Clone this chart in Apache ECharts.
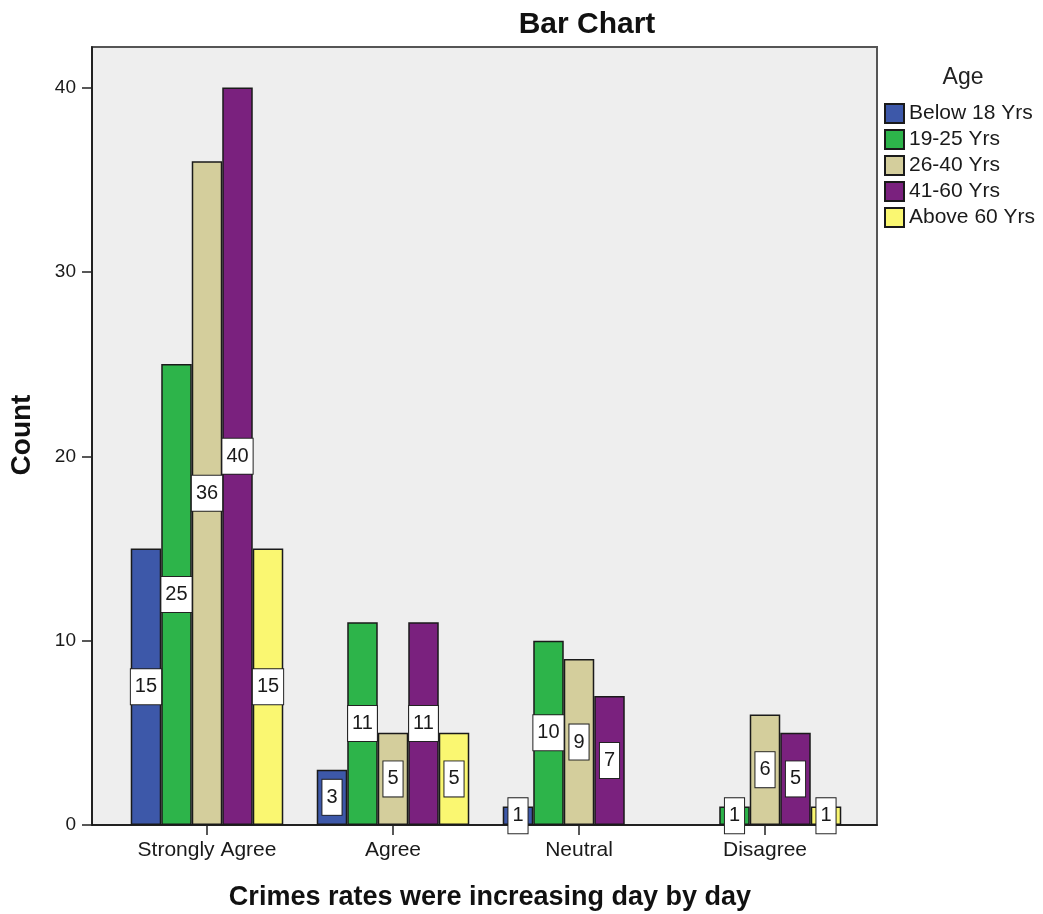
<!DOCTYPE html>
<html>
<head>
<meta charset="utf-8">
<script src="https://cdn.jsdelivr.net/npm/echarts@6/dist/echarts.min.js"></script>
<style>
  html, body { margin: 0; padding: 0; background: #ffffff; }
  #chart { width: 1043px; height: 914px; }
</style>
</head>
<body>
<div id="chart"></div>
<script>
// Responses to "Crimes rates were increasing day by day", counted by age group
const categories = ['Strongly Agree', 'Agree', 'Neutral', 'Disagree'];
const ageGroups = ['Below 18 Yrs', '19-25 Yrs', '26-40 Yrs', '41-60 Yrs', 'Above 60 Yrs'];
const below18 = [15, 3, 1, null];
const age19to25 = [25, 11, 10, 1];
const age26to40 = [36, 5, 9, 6];
const age41to60 = [40, 11, 7, 5];
const above60 = [15, 5, null, 1];
const yTicks = [0, 10, 20, 30, 40];

const seriesValues = [below18, age19to25, age26to40, age41to60, above60];
const colors = ['#3d58a9', '#2db44a', '#d4ce9c', '#7a217e', '#faf771'];

const FONT = 'Liberation Sans, Arial, Helvetica, sans-serif';
const Y_MAX = 42.2;

const chart = echarts.init(document.getElementById('chart'), null, { renderer: 'canvas' });

const series = seriesValues.map((vals, i) => ({
  name: ageGroups[i],
  type: 'bar',
  xAxisIndex: 1,
  yAxisIndex: 1,
  barGap: '0%',
  barCategoryGap: '18%',
  data: vals.map(v => (v === null ? '-' : v)),
  itemStyle: { color: colors[i], borderColor: '#1a1a1a', borderWidth: 1.5 },
  label: {
    show: true,
    position: 'inside',
    formatter: '{c}',
    fontFamily: FONT,
    fontSize: 20,
    color: '#1a1a1a',
    backgroundColor: '#ffffff',
    borderColor: '#222222',
    borderWidth: 1,
    padding: [7, 4, 6, 4],
    lineHeight: 22
  },
  emphasis: { disabled: true }
}));

chart.setOption({
  animation: false,
  backgroundColor: '#ffffff',
  title: [
    {
      text: 'Bar Chart',
      left: 582, top: 5, textAlign: 'center',
      textStyle: { fontFamily: FONT, fontSize: 30, fontWeight: 'bold', color: '#111' }
    },
    {
      text: 'Age',
      left: 958, top: 61, textAlign: 'center',
      textStyle: { fontFamily: FONT, fontSize: 23, fontWeight: 'normal', color: '#222' }
    },
    {
      text: 'Crimes rates were increasing day by day',
      left: 485, top: 879, textAlign: 'center',
      textStyle: { fontFamily: FONT, fontSize: 27, fontWeight: 'bold', color: '#111' }
    }
  ],
  graphic: [
    {
      type: 'text',
      x: 22, y: 435, rotation: Math.PI / 2,
      style: {
        text: 'Count', fontFamily: FONT, fontSize: 28, fontWeight: 'bold',
        fill: '#111', align: 'center', verticalAlign: 'middle'
      }
    }
  ],
  legend: {
    orient: 'vertical',
    left: 884, top: 103, padding: 0,
    itemWidth: 19, itemHeight: 19, itemGap: 5,
    icon: 'rect',
    data: ageGroups,
    textStyle: { fontFamily: FONT, fontSize: 21, color: '#1a1a1a' },
    selectedMode: false
  },
  grid: [
    // framed plot area
    { left: 92, right: 166, top: 47, bottom: 89, show: true,
      backgroundColor: '#eeeeee', borderColor: '#555555', borderWidth: 2, containLabel: false },
    // category band area for the bars
    { left: 114, right: 185, top: 47, bottom: 89, containLabel: false }
  ],
  xAxis: [
    {
      gridIndex: 0, type: 'value', min: 0, max: 1,
      axisLine: { show: true, lineStyle: { color: '#111', width: 1.5 } },
      axisTick: { show: false }, axisLabel: { show: false }, splitLine: { show: false }
    },
    {
      gridIndex: 1, type: 'category', data: categories,
      axisLine: { show: false },
      axisTick: { show: true, alignWithLabel: true, length: 10, lineStyle: { color: '#222', width: 1.5 } },
      axisLabel: { fontFamily: FONT, fontSize: 21, color: '#1a1a1a', margin: 15 },
      splitLine: { show: false }
    }
  ],
  yAxis: [
    {
      gridIndex: 0, type: 'value', min: 0, max: Y_MAX, interval: 10,
      axisLine: { show: true, lineStyle: { color: '#111', width: 1.5 } },
      axisTick: { show: true, length: 10, customValues: yTicks, lineStyle: { color: '#222', width: 1.5 } },
      axisLabel: { fontFamily: FONT, fontSize: 19, color: '#1a1a1a', margin: 16, customValues: yTicks },
      splitLine: { show: false }
    },
    {
      gridIndex: 1, type: 'value', min: 0, max: Y_MAX, interval: 10, show: false,
      splitLine: { show: false }
    }
  ],
  series: series
});
</script>
</body>
</html>
